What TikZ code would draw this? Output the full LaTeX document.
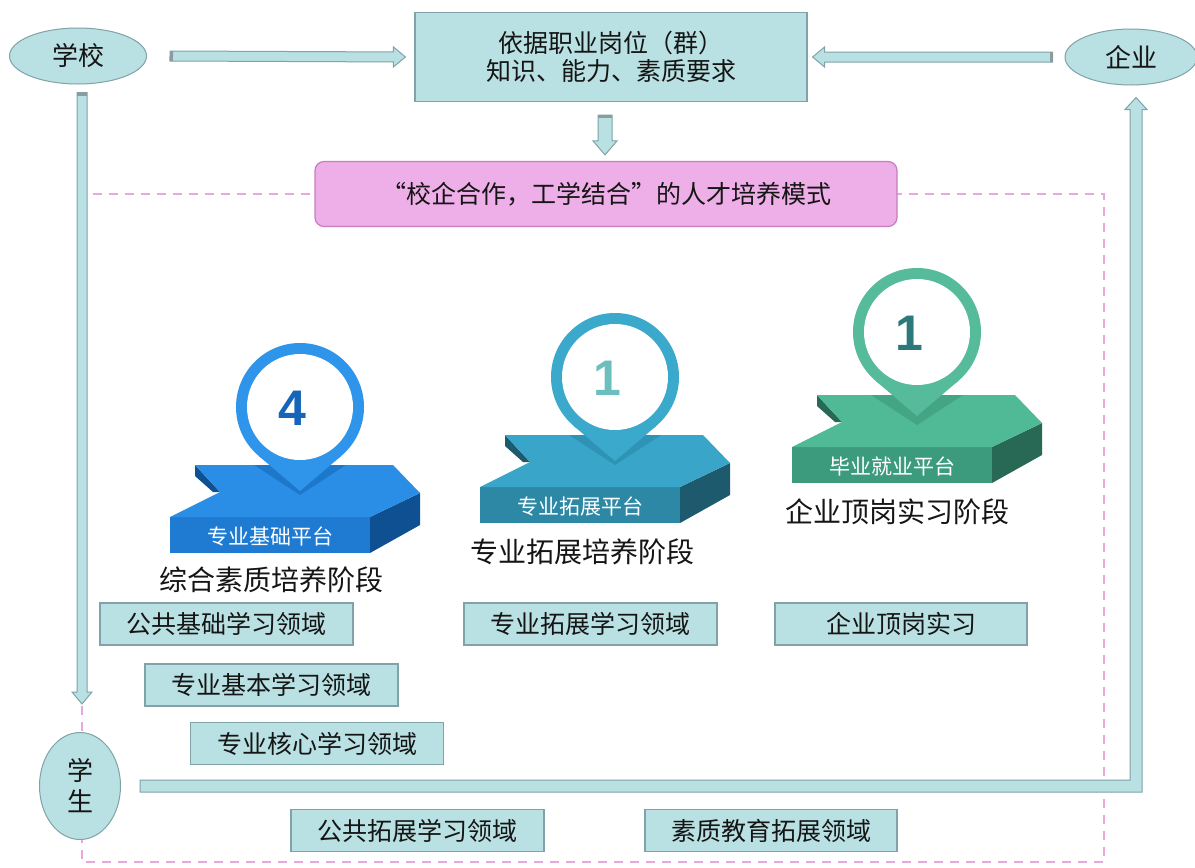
\documentclass[tikz,border=0pt]{standalone}
\usepackage{fontspec}
\setmainfont{Noto Sans CJK SC}
\newfontfamily\digitfont{Liberation Sans}
\usetikzlibrary{calc,shapes.geometric}

\definecolor{paleteal}{HTML}{B9E0E2}
\definecolor{tealedge}{HTML}{7FA3A8}
\definecolor{tailgray}{HTML}{8C9C9E}
\definecolor{pinkfill}{HTML}{EEAEE8}
\definecolor{pinkedge}{HTML}{C97DC0}
\definecolor{pinkdash}{HTML}{E9A8DD}
\definecolor{inkblack}{HTML}{151515}
% blue platform
\definecolor{blueTop}{HTML}{2A8EE6}
\definecolor{blueFront}{HTML}{1F7BD2}
\definecolor{blueSide}{HTML}{0F5092}
\definecolor{blueShade}{HTML}{1D78CC}
\definecolor{blueRing}{HTML}{2E95EA}
\definecolor{blueDigit}{HTML}{1566B8}
% teal platform
\definecolor{tealTop}{HTML}{38A5C9}
\definecolor{tealFront}{HTML}{2D88A6}
\definecolor{tealSide}{HTML}{1D5A6E}
\definecolor{tealShade}{HTML}{2F93B5}
\definecolor{tealRing}{HTML}{3AA9CB}
\definecolor{tealDigit}{HTML}{6DBFBD}
% green platform
\definecolor{greenTop}{HTML}{50B996}
\definecolor{greenFront}{HTML}{3C9B7D}
\definecolor{greenSide}{HTML}{286955}
\definecolor{greenShade}{HTML}{44A585}
\definecolor{greenRing}{HTML}{55BB9B}
\definecolor{greenDigit}{HTML}{2D787D}

\tikzset{
  oval/.style={ellipse, draw=tealedge, fill=paleteal, line width=1pt, inner sep=0pt,
    font=\fontsize{26}{30}\selectfont, text=inkblack},
  reqbox/.style={rectangle, draw=tealedge, fill=paleteal, line width=1.2pt, inner sep=0pt,
    align=center, font=\fontsize{25}{28}\selectfont, text=inkblack},
  areabox/.style={rectangle, draw=tealedge, fill=paleteal, line width=1.2pt,
    minimum width=253pt, minimum height=42pt, inner sep=0pt,
    font=\fontsize{25}{28}\selectfont, text=inkblack},
  modebox/.style={rectangle, rounded corners=9pt, draw=pinkedge, fill=pinkfill, line width=1.2pt,
    inner sep=0pt, font=\fontsize{25}{28}\selectfont, text=inkblack},
  blockarrow/.style={draw=tealedge, fill=paleteal, line width=1pt, line join=miter},
  frameline/.style={draw=pinkdash, line width=1.5pt, dash pattern=on 9pt off 7pt},
  stagetext/.style={font=\fontsize{28}{30}\selectfont, text=inkblack},
  platformtext/.style={font=\fontsize{21}{22}\selectfont, text=white},
  digit/.style={font=\digitfont\bfseries\fontsize{50}{50}\selectfont},
}

% straight block arrow: tail, tip, shaft half width, head half width, head length
\newcommand\blockarrow[5]{%
  \coordinate (ba-base) at ($#2!#5!#1$);
  \coordinate (ba-cap) at ($#1!3pt!#2$);
  \draw[blockarrow] ($#1!#3!90:#2$) -- ($(ba-base)!#3!90:#2$) -- ($(ba-base)!#4!90:#2$)
    -- #2 -- ($(ba-base)!#4!-90:#2$) -- ($(ba-base)!#3!-90:#2$) -- ($#1!#3!-90:#2$) -- cycle;
  \fill[tailgray] ($#1!#3!90:#2$) -- ($(ba-cap)!#3!90:#2$) -- ($(ba-cap)!#3!-90:#2$)
    -- ($#1!#3!-90:#2$) -- cycle;
}

% 3D arrow-shaped platform: front-left corner, top, front, side, shade, pin x, name, label
\newcommand\platform[8]{%
  \begin{scope}[shift={#1}]
    \fill[#4] (200,0) -- (250,-24) -- (250,8) -- (200,36) -- cycle;
    \fill[#4] (25,-52) -- (25,-41) -- (43,-25) -- (50,-25) -- cycle;
    \fill[#3] (0,0) rectangle (200,36);
    \fill[#2] (0,0) -- (50,-25) -- (25,-52) -- (223,-52) -- (250,-24) -- (200,0) -- cycle;
    \fill[#5] (#6-46,-52) -- (#6+46,-52) -- (#6,-22) -- cycle;
    \node[platformtext] (#7) at (100,19) {#8};
  \end{scope}
}

% location pin with a number: centre, ring colour, digit colour, name, digit
\newcommand\pin[5]{%
  \fill[#2] #1 circle (64pt);
  \fill[#2] ($#1+(-49.6:64pt)$) -- ($#1+(0,84)$) -- ($#1+(-130.4:64pt)$) -- cycle;
  \fill[white] #1 circle (53pt);
  \node[digit, text=#3] (#4) at ($#1+(-8,1)$) {#5};
}

\begin{document}
\begin{tikzpicture}[x=1pt,y=-1pt]
\useasboundingbox[fill=white] (0,0) rectangle (1195,868);

% dashed frame around the training model
\draw[frameline] (82,194) rectangle (1104,862);

% stage platforms and pins
\platform{(170,517)}{blueTop}{blueFront}{blueSide}{blueShade}{130}{pf1}{专业基础平台}
\pin{(300,407)}{blueRing}{blueDigit}{d1}{4}
\platform{(480,487)}{tealTop}{tealFront}{tealSide}{tealShade}{135}{pf2}{专业拓展平台}
\pin{(615,377)}{tealRing}{tealDigit}{d2}{1}
\platform{(792,447)}{greenTop}{greenFront}{greenSide}{greenShade}{125}{pf3}{毕业就业平台}
\pin{(917,332)}{greenRing}{greenDigit}{d3}{1}

\node[stagetext] (s1) at (271,580) {综合素质培养阶段};
\node[stagetext] (s2) at (582,552) {专业拓展培养阶段};
\node[stagetext] (s3) at (897,512) {企业顶岗实习阶段};

% main nodes
\node[oval, minimum width=137pt, minimum height=56pt] (school) at (78,56) {学校};
\node[oval, minimum width=132pt, minimum height=56pt] (ent) at (1131,57) {企业};
\node[oval, minimum width=81pt, minimum height=107pt, align=center,
      font=\fontsize{26}{31}\selectfont] (student) at (80,786) {学\\生};
\node[reqbox, minimum width=392pt, minimum height=89pt] (req) at (611,57)
  {依据职业岗位（群）\\知识、能力、素质要求};
\node[modebox, minimum width=582pt, minimum height=65pt] (mode) at (606,194)
  {“校企合作，工学结合”的人才培养模式};

% learning areas
\node[areabox] (b1) at (226.5,624) {公共基础学习领域};
\node[areabox] (b2) at (590.5,624) {专业拓展学习领域};
\node[areabox, minimum width=252pt] (b3) at (901,624) {企业顶岗实习};
\node[areabox] (b4) at (271.5,685) {专业基本学习领域};
\node[areabox] (b5) at (317,743.5) {专业核心学习领域};
\node[areabox] (b6) at (417.5,830.5) {公共拓展学习领域};
\node[areabox, minimum width=252pt] (b7) at (771,830.5) {素质教育拓展领域};

% block arrows
\coordinate (a1s) at ($(school.east)+(23,0)$);
\coordinate (a1e) at ($(req.west)+(-9,0)$);
\blockarrow{(a1s)}{(a1e)}{5pt}{10pt}{12pt}

\coordinate (a2s) at ($(ent.west)+(-12,0)$);
\coordinate (a2e) at ($(req.east)+(5,0)$);
\blockarrow{(a2s)}{(a2e)}{5pt}{10pt}{12pt}

\coordinate (a3s) at ($(req.south)+(-6,13)$);
\coordinate (a3e) at ($(a3s |- mode.north)+(0,-6)$);
\blockarrow{(a3s)}{(a3e)}{7pt}{12pt}{14pt}

\coordinate (a4s) at ($(school.south)+(4,8)$);
\coordinate (a4e) at ($(a4s |- student.north)+(0,-28)$);
\blockarrow{(a4s)}{(a4e)}{5pt}{10pt}{12pt}

% elbow arrow from the student to the enterprise
\coordinate (a5s) at ($(student.east)+(19,0)$);
\coordinate (a5e) at ($(ent.south)+(5,12)$);
\draw[blockarrow] let \p1=(a5s), \p2=(a5e) in
  (\x1,\y1+6) -- (\x2-6,\y1+6) -- (\x2-6,\y2-12) -- (\x2-11,\y2-12) -- (\x2,\y2)
  -- (\x2+11,\y2-12) -- (\x2+6,\y2-12) -- (\x2+6,\y1-6) -- (\x1,\y1-6) -- cycle;
\end{tikzpicture}
\end{document}
